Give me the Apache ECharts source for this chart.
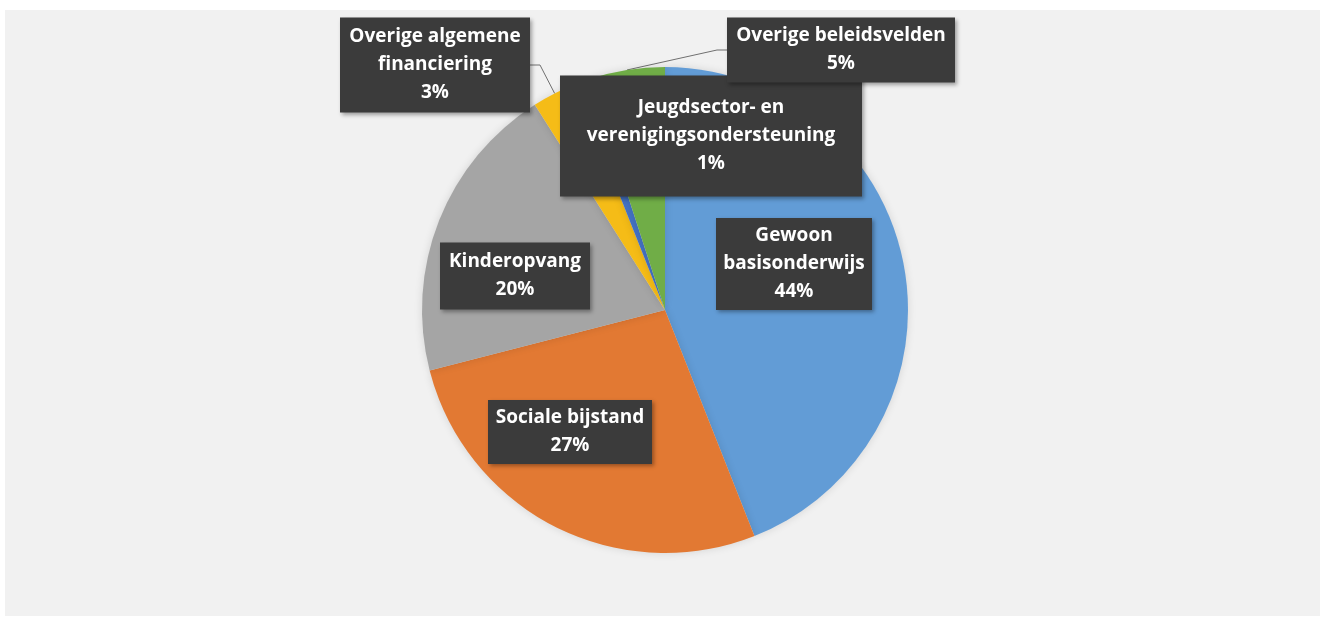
<!DOCTYPE html>
<html>
<head>
<meta charset="utf-8">
<script src="https://cdn.jsdelivr.net/npm/echarts@6/dist/echarts.min.js"></script>
<style>
  html, body { margin: 0; padding: 0; background: #ffffff; }
  #panel { position: absolute; left: 5px; top: 10px; right: 0; bottom: 1px; background: #f1f1f1; }
  #chart { position: absolute; left: 0; top: 0; width: 1320px; height: 617px; }
</style>
</head>
<body>
<div id="panel"></div>
<div id="chart"></div>
<script>
// budget share per policy field, clockwise from 12 o'clock
var categories = [
  'Gewoon\nbasisonderwijs',
  'Sociale bijstand',
  'Kinderopvang',
  'Overige algemene\nfinanciering',
  'Jeugdsector- en\nverenigingsondersteuning',
  'Overige beleidsvelden'
];
var shares = [44, 27, 20, 3, 1, 5];
var colors = ['#629cd6', '#e27933', '#a5a5a5', '#f5bc17', '#4472c4', '#70ad47'];

// callout boxes: centre and size (px)
var labelSpots = [
  [794, 264],
  [570, 432],
  [515, 276],
  [435, 65],
  [711, 136],
  [841, 50]
];
var boxSizes = [
  [156, 92],
  [164, 64],
  [150, 67],
  [190, 95],
  [302, 121],
  [228, 65]
];
var withLeader = [false, false, false, true, false, true];

var LINE_H = 28;

var chart = echarts.init(document.getElementById('chart'), null, { renderer: 'canvas' });

var data = categories.map(function (name, i) {
  var lines = name.split('\n').length + 1;
  var w = boxSizes[i][0], h = boxSizes[i][1];
  var padY = Math.max(0, (h - lines * LINE_H) / 2);
  return {
    name: name,
    value: shares[i],
    itemStyle: { color: colors[i] },
    label: {
      width: w - 8,
      padding: [padY, 4, padY, 4]
    },
    labelLine: { show: withLeader[i] }
  };
});

chart.setOption({
  animation: false,
  backgroundColor: 'transparent',
  series: [{
    type: 'pie',
    center: [665, 310],
    radius: 243,
    startAngle: 90,
    clockwise: true,
    percentPrecision: 0,
    data: data,
    itemStyle: {
      borderWidth: 0,
      shadowBlur: 8,
      shadowColor: 'rgba(0,0,0,0.12)'
    },
    label: {
      show: true,
      position: 'outside',
      formatter: '{b}\n{d}%',
      color: '#ffffff',
      fontFamily: 'Open Sans',
      fontWeight: 'bold',
      fontSize: 19,
      lineHeight: LINE_H,
      align: 'center',
      overflow: 'none',
      backgroundColor: '#3b3b3b',
      shadowBlur: 4,
      shadowOffsetX: 2,
      shadowOffsetY: 2,
      shadowColor: 'rgba(0,0,0,0.35)'
    },
    labelLine: {
      show: false,
      length: 10,
      length2: 10,
      lineStyle: { color: '#6f6f6f', width: 1 }
    },
    labelLayout: function (params) {
      var p = labelSpots[params.dataIndex];
      return {
        x: p[0],
        y: p[1],
        align: 'center',
        verticalAlign: 'middle'
      };
    }
  }]
});
</script>
</body>
</html>
